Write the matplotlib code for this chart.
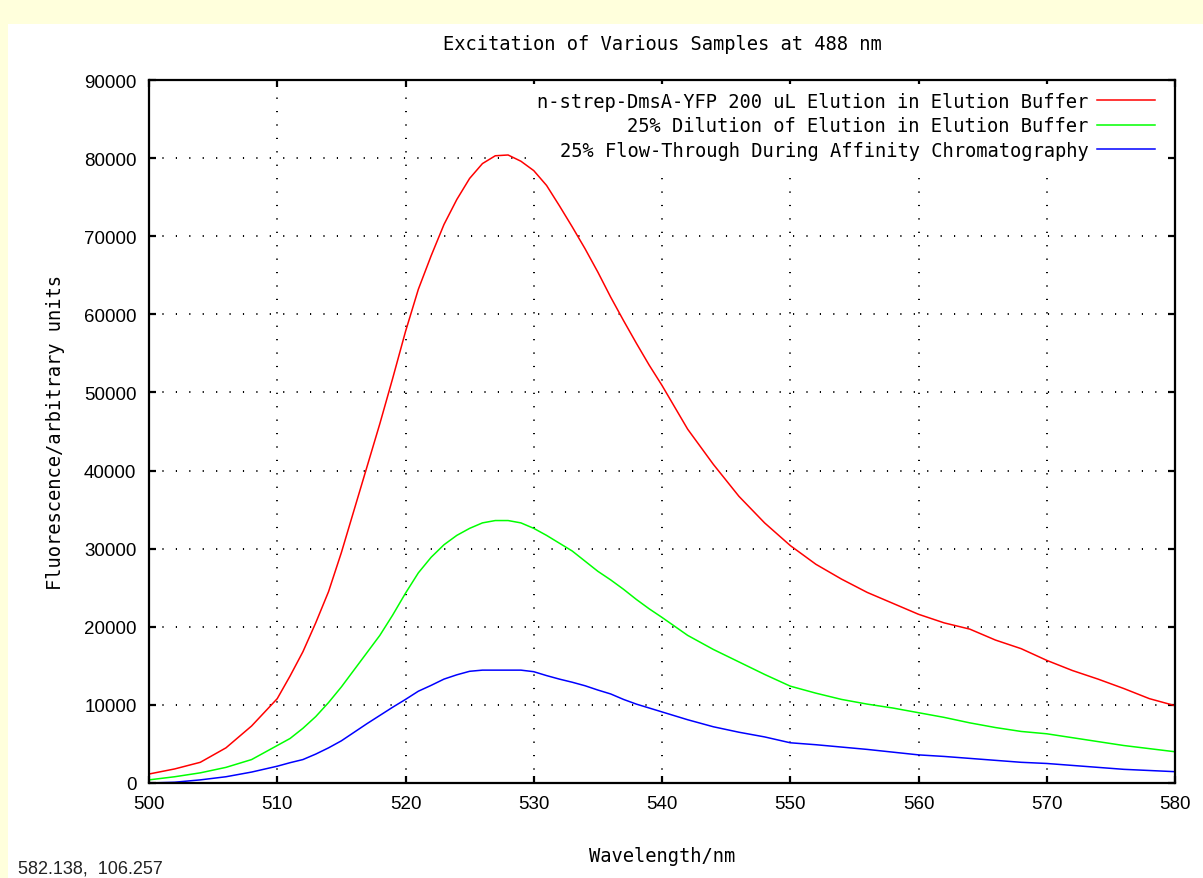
import matplotlib
matplotlib.use('Agg')
import matplotlib.pyplot as plt
from matplotlib.patches import Rectangle

# wavelengths (nm)
wavelength = [500, 502, 504, 506, 508, 510, 511, 512, 513, 514, 515, 516, 517, 518, 519,
              520, 521, 522, 523, 524, 525, 526, 527, 528, 529, 530, 531, 532, 533, 534,
              535, 536, 537, 538, 539, 540, 542, 544, 546, 548, 550, 552, 554, 556, 558,
              560, 562, 564, 566, 568, 570, 572, 574, 576, 578, 580]

elution = [1150, 1800, 2650, 4500, 7300, 10800, 13700, 16800, 20500, 24500, 29500, 35000, 40500, 46000, 51800,
           57800, 63200, 67500, 71500, 74700, 77400, 79300, 80300, 80400, 79600, 78400, 76500, 73900, 71200, 68400,
           65400, 62200, 59200, 56300, 53500, 50900, 45300, 40800, 36700, 33300, 30400, 28000, 26100, 24400, 23000,
           21600, 20500, 19700, 18300, 17200, 15700, 14400, 13300, 12100, 10800, 9900]

dilution = [400, 800, 1300, 2000, 3000, 4800, 5700, 7000, 8500, 10300, 12300, 14500, 16700, 18900, 21500,
            24300, 26900, 28900, 30500, 31700, 32600, 33300, 33600, 33600, 33300, 32600, 31700, 30700, 29700, 28400,
            27100, 26000, 24800, 23500, 22300, 21200, 18900, 17100, 15500, 13900, 12400, 11500, 10700, 10100, 9600,
            9000, 8400, 7700, 7100, 6600, 6300, 5800, 5300, 4800, 4400, 4000]

flowthrough = [0, 100, 400, 800, 1400, 2150, 2600, 3000, 3700, 4500, 5400, 6500, 7600, 8650, 9700,
               10700, 11750, 12500, 13300, 13850, 14300, 14450, 14450, 14450, 14450, 14250, 13750, 13300, 12900, 12450,
               11900, 11400, 10700, 10100, 9600, 9100, 8100, 7200, 6500, 5900, 5150, 4900, 4600, 4300, 3950,
               3600, 3400, 3150, 2900, 2650, 2500, 2250, 2000, 1750, 1600, 1450]

labels = ['n-strep-DmsA-YFP 200 uL Elution in Elution Buffer',
          '25% Dilution of Elution in Elution Buffer',
          '25% Flow-Through During Affinity Chromatography']

mono = 'DejaVu Sans Mono'

fig = plt.figure(figsize=(12.03, 8.79), dpi=100, facecolor='#FFFFDC')
# white page area (the yellow shows only as a thin strip on the left and top)
fig.patches.append(Rectangle((8 / 1203, 0), 1, 1 - 25 / 879, transform=fig.transFigure,
                             facecolor='white', edgecolor='none', zorder=-10))

ax = fig.add_axes([149 / 1203, 1 - 784 / 879, 1026 / 1203, 703 / 879])
ax.set_facecolor('white')

ax.plot(wavelength, elution, color='#FF0000', lw=1.1, label=labels[0])
ax.plot(wavelength, dilution, color='#00FF00', lw=1.1, label=labels[1])
ax.plot(wavelength, flowthrough, color='#0000FF', lw=1.1, label=labels[2])

ax.set_xlim(500, 580)
ax.set_ylim(0, 90000)
ax.set_xticks(range(500, 581, 10))
ax.set_yticks(range(0, 90001, 10000))

ax.grid(True, color='black', lw=1.4, ls=(0, (0.6, 6.3)))
for s in ax.spines.values():
    s.set_linewidth(1.6)
ax.tick_params(direction='in', length=5, width=1.6, top=True, right=True,
               labelsize=13.5, pad=9)
for t in ax.get_xticklabels() + ax.get_yticklabels():
    t.set_family('Liberation Sans')

ax.set_xlabel('Wavelength/nm', family=mono, fontsize=13.5, labelpad=24)
ax.set_ylabel('Fluorescence/arbitrary units', family=mono, fontsize=13.5, labelpad=14)
fig.text(662 / 1203, 1 - 45 / 879, 'Excitation of Various Samples at 488 nm',
         family=mono, fontsize=13.5, ha='center', va='center')

# key sits on a white box that hides the grid, no border
leg = ax.legend(loc='upper right', bbox_to_anchor=(0.9878, 1 - 4 / 703), frameon=True,
                facecolor='white', edgecolor='none', framealpha=1, fancybox=False,
                markerfirst=False, prop={'family': mono, 'size': 13.5}, handlelength=3.1,
                handletextpad=0.45, labelspacing=0.3, borderaxespad=0, borderpad=0.4)

fig.text(18 / 1203, 1 - 861 / 879, '582.138,  106.257', family='Liberation Sans',
         fontsize=13, ha='left', va='top', color='#222222')

fig.savefig('out.png', dpi=100, facecolor=fig.get_facecolor())
